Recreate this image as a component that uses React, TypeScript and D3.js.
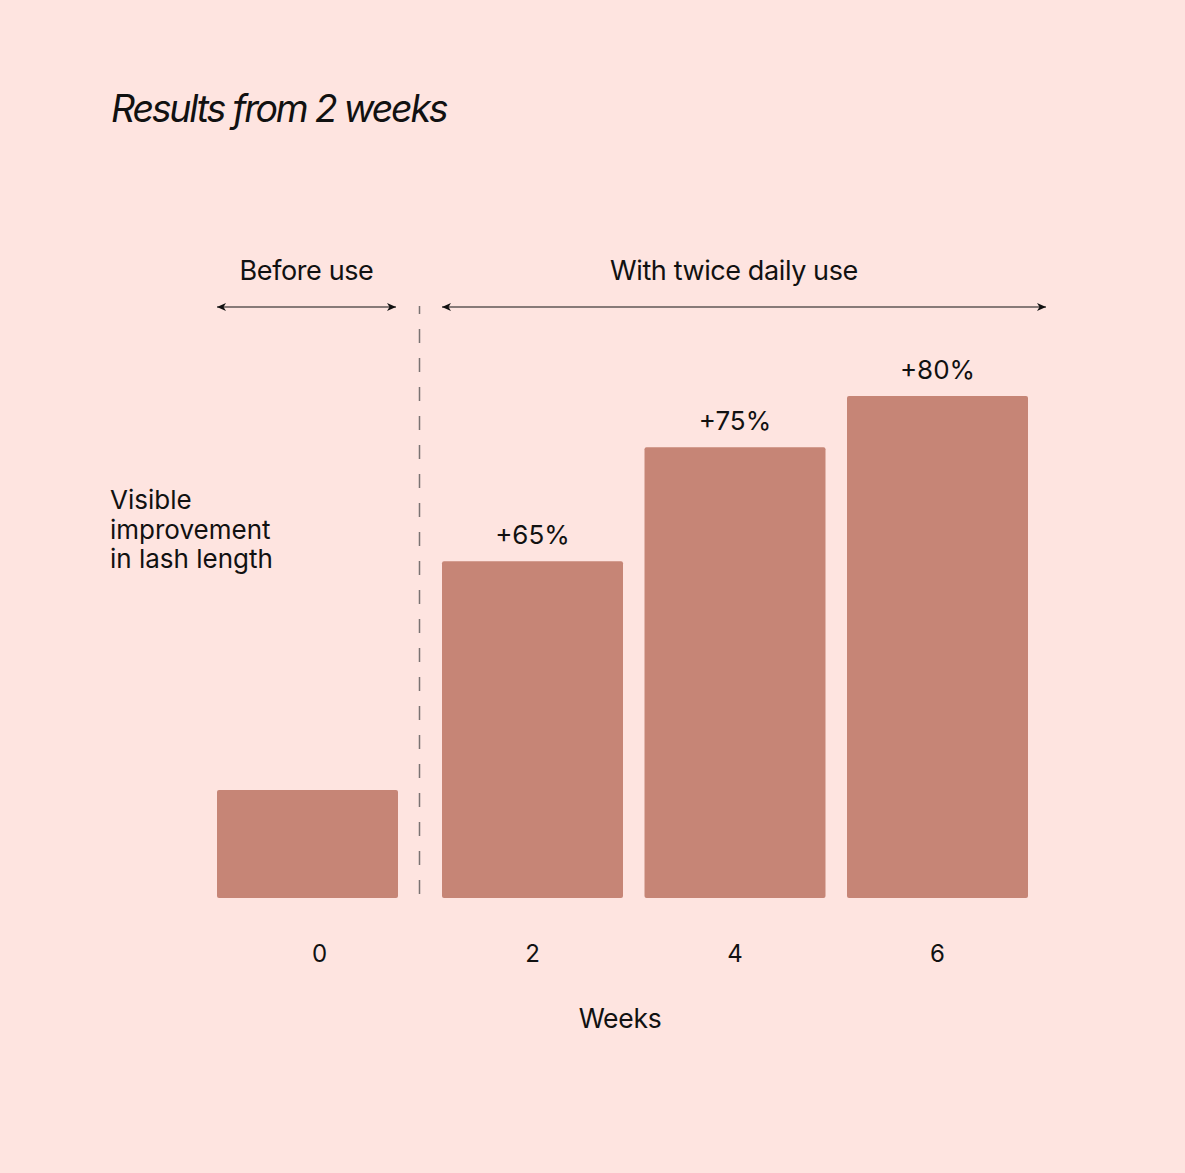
import React from "react";
import * as d3 from "d3";

const weeks = ["0", "2", "4", "6"];
// relative bar heights (index, tallest = 100)
const barValues = [21.5, 67.1, 89.8, 100];
const barLabels = ["", "+65%", "+75%", "+80%"];
const title = "Results from 2 weeks";
const yLabelLines = ["Visible", "improvement", "in lash length"];
const xTitle = "Weeks";
const phaseLabels = ["Before use", "With twice daily use"];

const W = 1185;
const H = 1173;
const BG = "#FEE4E0";
const BAR = "#C68576";
const INK = "#111111";
const FONT = "Inter, 'Open Sans', sans-serif";

export default function App() {
  const baseline = 898;
  const y = d3.scaleLinear().domain([0, 100]).range([baseline, 396]);
  const x = d3.scaleBand<string>().domain(weeks).range([239.5, 1028]).paddingInner(21.5 / 202.5).paddingOuter(0);
  const shift = (w: string) => (w === "0" ? -22.5 : 0);
  const bw = x.bandwidth();
  const dividerX = 419.5;
  const arrowY = 307;

  const beforeStart = (x("0") as number) + shift("0");
  const beforeEnd = beforeStart + bw - 2;
  const afterStart = x("2") as number;
  const afterEnd = 1046;

  const arrowHead = (px: number, dir: number) => {
    const p = d3.path();
    p.moveTo(px, arrowY);
    p.lineTo(px - dir * 9, arrowY - 4);
    p.lineTo(px - dir * 6.5, arrowY);
    p.lineTo(px - dir * 9, arrowY + 4);
    p.closePath();
    return p.toString();
  };

  return (
    <svg width={W} height={H} style={{ position: "absolute", left: 0, top: 0, display: "block" }}>
      <rect x={0} y={0} width={W} height={H} fill={BG} />
      <text x={111} y={122} fontFamily={FONT} fontStyle="italic" fontSize={37.5} letterSpacing={-2.2} fill={INK}>
        {title}
      </text>

      {/* phase labels */}
      <text x={(beforeStart + beforeEnd) / 2} y={280} textAnchor="middle" fontFamily={FONT} fontSize={27} letterSpacing={-0.4} fill={INK}>
        {phaseLabels[0]}
      </text>
      <text x={734} y={280} textAnchor="middle" fontFamily={FONT} fontSize={27} letterSpacing={-0.4} fill={INK}>
        {phaseLabels[1]}
      </text>

      {/* arrows */}
      <line x1={beforeStart} x2={beforeEnd} y1={arrowY} y2={arrowY} stroke={INK} strokeWidth={1} />
      <path d={arrowHead(beforeStart, -1)} fill={INK} />
      <path d={arrowHead(beforeEnd, 1)} fill={INK} />
      <line x1={afterStart} x2={afterEnd} y1={arrowY} y2={arrowY} stroke={INK} strokeWidth={1} />
      <path d={arrowHead(afterStart, -1)} fill={INK} />
      <path d={arrowHead(afterEnd, 1)} fill={INK} />

      {/* divider */}
      <line x1={dividerX} x2={dividerX} y1={306} y2={baseline} stroke="#7a7272" strokeWidth={1.5} strokeDasharray="14 15" strokeDashoffset={6} />

      {/* y label */}
      {yLabelLines.map((t, i) => (
        <text key={t} x={110} y={509 + i * 29.5} fontFamily={FONT} fontSize={26} letterSpacing={0} fill={INK}>
          {t}
        </text>
      ))}

      {/* bars */}
      {weeks.map((w, i) => {
        const bx = (x(w) as number) + shift(w);
        const by = y(barValues[i]);
        return (
          <g key={w}>
            <rect x={bx} y={by} width={bw} height={baseline - by} rx={2} fill={BAR} />
            {barLabels[i] && (
              <text x={bx + bw / 2} y={by - 17} textAnchor="middle" fontFamily={FONT} fontSize={26} fill={INK}>
                {barLabels[i]}
              </text>
            )}
            <text x={bx + bw / 2 + (w === "0" ? 12 : 0)} y={962} textAnchor="middle" fontFamily={FONT} fontSize={24} fill={INK}>
              {w}
            </text>
          </g>
        );
      })}

      <text x={620} y={1028} textAnchor="middle" fontFamily={FONT} fontSize={26.5} letterSpacing={-0.3} fill={INK}>
        {xTitle}
      </text>
    </svg>
  );
}
